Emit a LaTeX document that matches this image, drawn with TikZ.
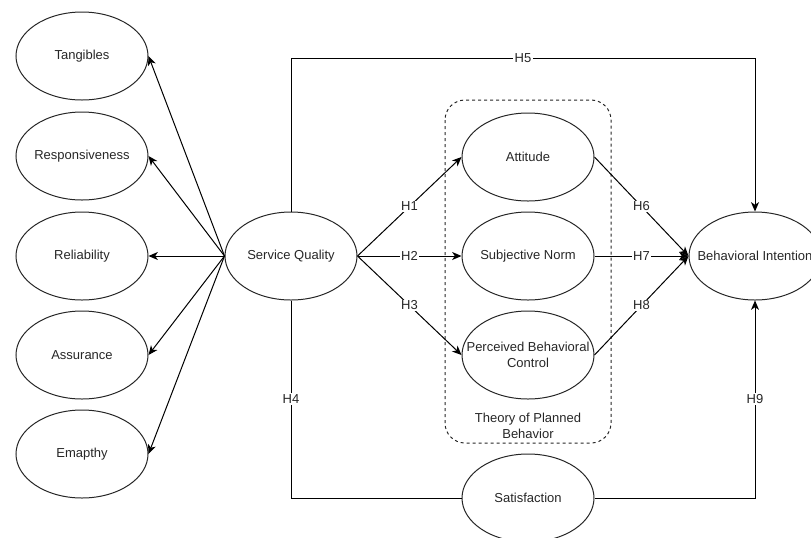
\documentclass[tikz,border=0pt]{standalone}
\usepackage{fontspec}
\setmainfont{Liberation Sans}
\usetikzlibrary{shapes.geometric,arrows.meta}
\begin{document}
\begin{tikzpicture}[x=0.75pt,y=-0.75pt,
 every node/.style={font=\fontsize{9.75pt}{12pt}\selectfont, text=black!85},
 oval/.style={draw=black!85, ellipse, minimum width=99pt, minimum height=66pt, inner sep=0pt, line width=0.75pt},
 conn/.style={line width=0.75pt, draw=black},
 arr/.style={conn, -{Stealth[length=7pt,width=6pt,inset=2pt]}},
 lbl/.style={fill=white, inner sep=1pt}]
\useasboundingbox (0,0) rectangle (811,537);
% dashed group
\draw[line width=0.75pt, draw=black!85, dash pattern=on 2.25pt off 2.25pt, rounded corners=15pt] (445,100) rectangle (611,443);
\node[align=center] (tpbtext) at (528,426) {Theory of Planned\\Behavior};
% left dimensions
\node[oval, label=center:Tangibles] (tang) at (82,56) {};
\node[oval, label=center:Responsiveness] (resp) at (82,156) {};
\node[oval, label=center:Reliability] (rel) at (82,256) {};
\node[oval, label=center:Assurance] (assur) at (82,355) {};
\node[oval, label=center:Emapthy] (emp) at (82,454) {};
% center
\node[oval, label=center:Service Quality] (sq) at (291,256) {};
\node[oval, label=center:Attitude] (att) at (528,157) {};
\node[oval, label=center:Subjective Norm] (sn) at (528,256) {};
\node[oval, label={[align=center]center:Perceived Behavioral\\Control}] (pbc) at (528,355) {};
\node[oval, label=center:Satisfaction] (sat) at (528,498) {};
\node[oval, label=center:Behavioral Intention] (bi) at (755,256) {};
% helper coordinates
\coordinate (h5a) at (291,58);
\coordinate (h5b) at (755,58);
\coordinate (h4a) at (291,498);
\coordinate (h9a) at (755,498);
% arrows to dimensions
\draw[arr] (sq.west) -- (tang.east);
\draw[arr] (sq.west) -- (resp.east);
\draw[arr] (sq.west) -- (rel.east);
\draw[arr] (sq.west) -- (assur.east);
\draw[arr] (sq.west) -- (emp.east);
% hypotheses
\draw[arr] (sq.east) -- node[lbl]{H1} (att.west);
\draw[arr] (sq.east) -- node[lbl]{H2} (sn.west);
\draw[arr] (sq.east) -- node[lbl]{H3} (pbc.west);
\draw[conn] (sq.south) -- node[lbl]{H4} (h4a) -- (sat.west);
\draw[arr] (sq.north) -- (h5a) -- node[lbl]{H5} (h5b) -- (bi.north);
\draw[arr] (att.east) -- node[lbl]{H6} (bi.west);
\draw[arr] (sn.east) -- node[lbl]{H7} (bi.west);
\draw[arr] (pbc.east) -- node[lbl]{H8} (bi.west);
\draw[arr] (sat.east) -- (h9a) -- node[lbl]{H9} (bi.south);
\end{tikzpicture}
\end{document}
